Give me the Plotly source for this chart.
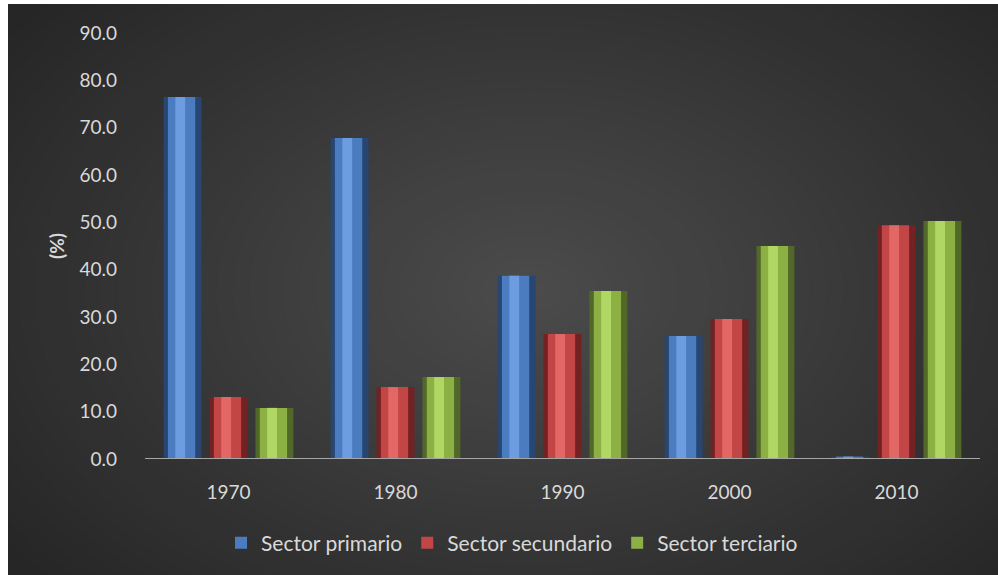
import plotly.graph_objects as go

# Data: share of employment by sector (%)
years = ["1970", "1980", "1990", "2000", "2010"]
primario = [76.5, 67.8, 38.7, 26.0, 0.5]
secundario = [13.1, 15.2, 26.4, 29.6, 49.4]
terciario = [10.8, 17.3, 35.5, 45.0, 50.3]
series_names = ["Sector primario", "Sector secundario", "Sector terciario"]
y_ticks = [0, 10, 20, 30, 40, 50, 60, 70, 80, 90]

# Bevel palette per series: (edge, body, highlight)
palettes = [
    ("#284672", "#4c7cc0", "#6d9de0"),
    ("#722222", "#c24645", "#e26765"),
    ("#526829", "#8db044", "#b0d663"),
]

W, H = 998, 575
# plot area in pixels
PX0, PX1, PY0, PY1 = 145, 980, 33, 459


def px_to_paper_x(px):
    return (px - PX0) / (PX1 - PX0)


def py_to_paper_y(py):
    return (PY1 - py) / (PY1 - PY0)


fig = go.Figure()

bar_w = 0.227
slot = 0.275
values = [primario, secundario, terciario]

# three stacked layers give the bevelled look: dark edge, body, highlight
layers = [(1.0, 0), (0.72, 1), (0.26, 2)]
for li, (frac, ci) in enumerate(layers):
    for si, (name, vals) in enumerate(zip(series_names, values)):
        centre = (si - 1) * slot
        w = bar_w * frac
        shift = -0.014 if li == 2 else (-0.006 if li == 1 else 0.0)
        fig.add_trace(go.Bar(
            x=years, y=vals, name=name,
            width=w, offset=centre - w / 2 + shift,
            marker=dict(color=palettes[si][ci], line=dict(width=0)),
            showlegend=(li == 1),
            legendrank=si,
            hoverinfo="skip" if li != 1 else None,
        ))

shapes = []
# dark chart area (leaves a thin white page border at top and left)
shapes.append(dict(type="rect", xref="paper", yref="paper", layer="below",
                   x0=px_to_paper_x(8), x1=px_to_paper_x(W + 40),
                   y0=py_to_paper_y(H + 40), y1=py_to_paper_y(4),
                   fillcolor="#262626", line=dict(width=0)))

# radial gradient built from concentric ellipses
cx, cy = 530, 290
rx_max, ry_max = 660, 440
edge_c, centre_c = 0x26, 0x4c
steps = 40
for k in range(1, steps):
    t = 1 - k / steps
    level = int(round(edge_c + (centre_c - edge_c) * (1 - t) ** 1.0))
    col = "#{0:02x}{0:02x}{0:02x}".format(level)
    rx, ry = rx_max * t, ry_max * t
    shapes.append(dict(
        type="circle", xref="paper", yref="paper", layer="below",
        x0=px_to_paper_x(cx - rx), x1=px_to_paper_x(cx + rx),
        y0=py_to_paper_y(cy + ry), y1=py_to_paper_y(cy - ry),
        fillcolor=col, line=dict(width=0),
    ))

# white page border over any gradient overflow
shapes.append(dict(type="rect", xref="paper", yref="paper", layer="above",
                   x0=px_to_paper_x(-40), x1=px_to_paper_x(W + 40),
                   y0=py_to_paper_y(4), y1=py_to_paper_y(-40),
                   fillcolor="white", line=dict(width=0)))
shapes.append(dict(type="rect", xref="paper", yref="paper", layer="above",
                   x0=px_to_paper_x(-40), x1=px_to_paper_x(8),
                   y0=py_to_paper_y(H + 40), y1=py_to_paper_y(-40),
                   fillcolor="white", line=dict(width=0)))

# baseline axis line
shapes.append(dict(type="line", xref="paper", yref="y", layer="above",
                   x0=0, x1=1, y0=0, y1=0,
                   line=dict(color="#a6a6a6", width=2)))

font_fam = "Lato, Open Sans, sans-serif"
fig.update_layout(
    width=W, height=H,
    margin=dict(l=PX0, r=W - PX1, t=PY0, b=H - PY1, pad=0),
    barmode="overlay",
    paper_bgcolor="white",
    plot_bgcolor="rgba(0,0,0,0)",
    shapes=shapes,
    font=dict(family=font_fam, color="#d9d9d9", size=19),
    xaxis=dict(
        range=[-0.5, 4.5], showgrid=False, zeroline=False, showline=False,
        ticks="", tickfont=dict(size=19, color="#d9d9d9"),
        ticklabelstandoff=20,
    ),
    yaxis=dict(
        range=[0, 90], tickvals=y_ticks,
        ticktext=[f"{v:.1f}" for v in y_ticks],
        showgrid=False, zeroline=False, showline=False, ticks="",
        tickfont=dict(size=19, color="#d9d9d9"),
        ticklabelstandoff=27,
        title=dict(text="<b>(%)</b>", font=dict(size=19, color="#d9d9d9"),
                   standoff=9),
    ),
    legend=dict(
        orientation="h", x=px_to_paper_x(512), xanchor="center",
        y=py_to_paper_y(543), yanchor="middle",
        font=dict(size=21, color="#d9d9d9"),
        bgcolor="rgba(0,0,0,0)", traceorder="normal",
        itemwidth=30, itemsizing="constant",
    ),
)

# page body: no margin, dark backdrop behind the figure
page_js = ("document.body.style.margin='0';"
           "document.body.style.background='#262626';")
fig.write_html("out.html", post_script=page_js)
